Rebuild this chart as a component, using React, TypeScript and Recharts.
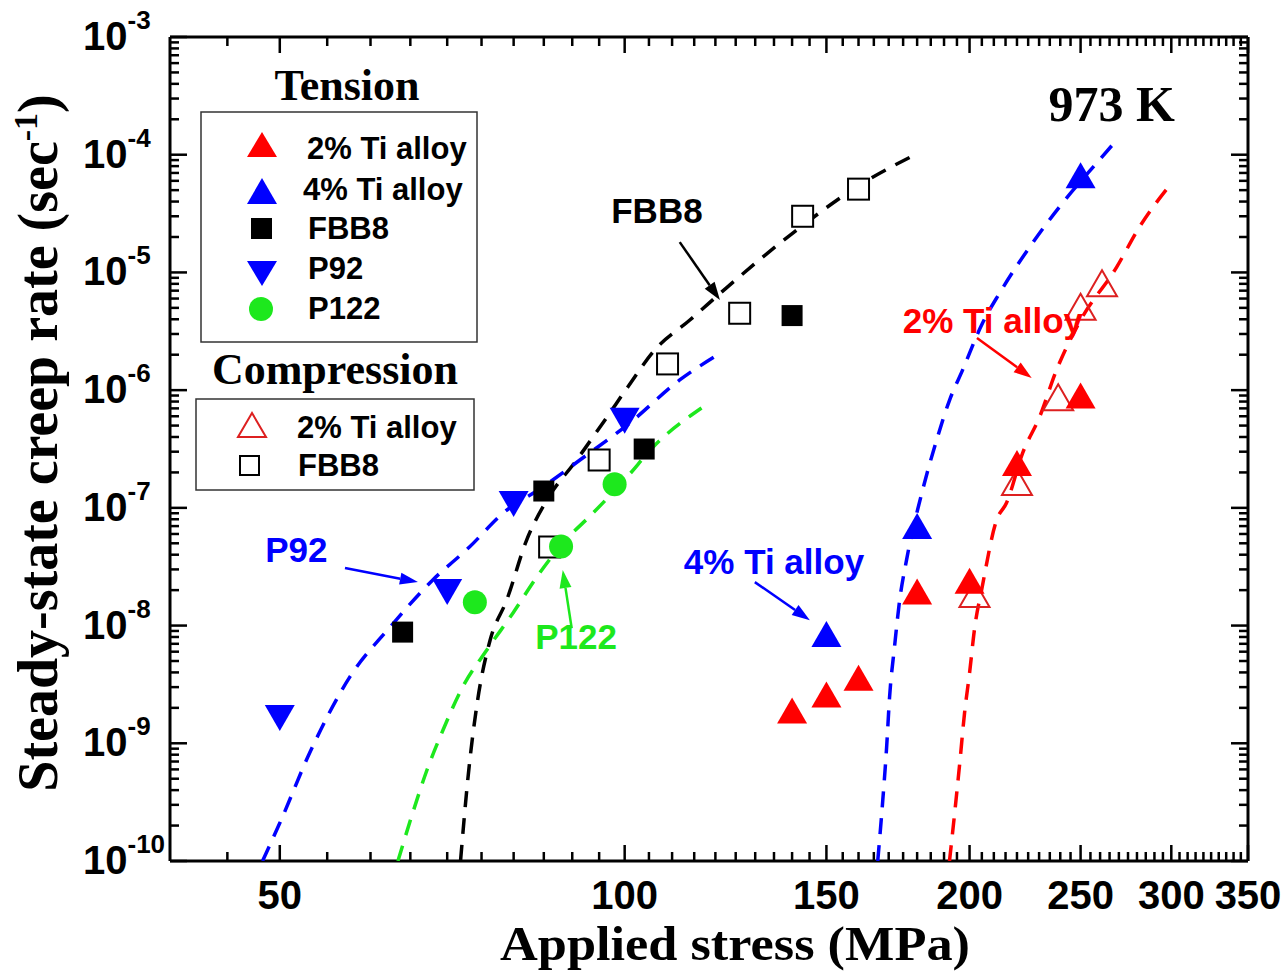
import React from 'react';
import { ScatterChart, Scatter, XAxis, YAxis, ReferenceLine, ReferenceDot } from 'recharts';

const SANS = "'Liberation Sans', Arial, sans-serif";
const SERIF = "'Liberation Serif', 'Times New Roman', serif";

const RED = '#ff0000';
const BLUE = '#0000ff';
const GREEN = '#1de81d';
const OPEN_RED = '#dd2020';

// ---------- measured points ----------
const TI2_T_X = [140, 150, 160, 180, 200, 220, 250];
const TI2_T_Y = [1.9e-9, 2.6e-9, 3.6e-9, 1.95e-8, 2.4e-8, 2.4e-7, 9.0e-7];
const TI4_T_X = [150, 180, 250];
const TI4_T_Y = [8.5e-9, 7.0e-8, 6.7e-5];
const FBB8_T_X = [64, 85, 104, 140];
const FBB8_T_Y = [8.8e-9, 1.39e-7, 3.16e-7, 4.3e-6];
const P92_X = [50, 70, 80, 100];
const P92_Y = [1.64e-9, 1.93e-8, 1.08e-7, 5.5e-7];
const P122_X = [74, 88, 98];
const P122_Y = [1.58e-8, 4.7e-8, 1.59e-7];
const TI2_C_X = [202, 220, 239, 250, 261];
const TI2_C_Y = [1.85e-8, 1.66e-7, 8.7e-7, 5.1e-6, 8.1e-6];
const FBB8_C_X = [86, 95, 109, 126, 143, 160];
const FBB8_C_Y = [4.65e-8, 2.55e-7, 1.67e-6, 4.5e-6, 3.0e-5, 5.1e-5];

// ---------- fitted (dashed) curves ----------
const FIT_FBB8_X = [71.9, 73.0, 74.4, 76.3, 78.9, 82.1, 85.5, 90.8, 96.5, 100.6, 106.2, 114.0, 122.7, 140.2, 161.4, 177.4];
const FIT_FBB8_Y = [1e-10, 5.2e-10, 2.3e-9, 7.5e-9, 1.65e-8, 5.3e-8, 1.16e-7, 2.55e-7, 5.9e-7, 1.06e-6, 2.19e-6, 3.94e-6, 7.4e-6, 2.16e-5, 5.75e-5, 9.5e-5];
const FIT_P92_X = [48.3, 50.0, 53.1, 57.6, 62.4, 68.0, 73.2, 78.3, 84.8, 91.4, 101.0, 111.7, 120.5];
const FIT_P92_Y = [1e-10, 2.1e-10, 8.3e-10, 3.7e-9, 9.7e-9, 2.44e-8, 4.65e-8, 9.0e-8, 1.5e-7, 2.55e-7, 5.25e-7, 1.22e-6, 1.99e-6];
const FIT_P122_X = [63.4, 65.3, 67.2, 69.4, 72.2, 75.8, 79.9, 83.8, 88.3, 93.8, 100.5, 105.9, 116.7];
const FIT_P122_Y = [1e-10, 2.55e-10, 5.9e-10, 1.29e-9, 3.0e-9, 6.2e-9, 1.28e-8, 2.58e-8, 5.0e-8, 9.0e-8, 1.83e-7, 3.29e-7, 7.05e-7];
const FIT_TI4_X = [166.3, 168.0, 169.3, 170.3, 172.0, 173.8, 176.2, 182.0, 187.2, 192.1, 197.2, 205.3, 212.5, 227.0, 239.6, 258.2, 268.8];
const FIT_TI4_Y = [1e-10, 3.3e-10, 9.3e-10, 2.47e-9, 6.6e-9, 1.65e-8, 3.6e-8, 1.42e-7, 3.77e-7, 8.2e-7, 1.48e-6, 3.72e-6, 6.7e-6, 1.78e-5, 3.6e-5, 8.5e-5, 1.33e-4];
const FIT_TI2_X = [192.1, 194.1, 196.1, 198.0, 200.0, 202.1, 204.9, 211.2, 215.4, 222.5, 230.2, 238.2, 249.2, 268.8, 281.4, 300.2];
const FIT_TI2_Y = [1e-10, 2.55e-10, 6.8e-10, 1.81e-9, 3.95e-9, 9.7e-9, 2.0e-8, 7.9e-8, 1.1e-7, 2.92e-7, 5.9e-7, 1.48e-6, 3.72e-6, 1.11e-5, 2.43e-5, 5.75e-5];

// ---------- axes ----------
const X_DOMAIN = [40.1, 350];
const Y_DOMAIN = [1e-10, 1e-3];
const X_MAJOR = [50, 100, 150, 200, 250, 300, 350];
const X_TICKS: number[] = [];
for (let v = 45; v <= 350; v += 5) X_TICKS.push(v);
const Y_DECADES = [1e-10, 1e-9, 1e-8, 1e-7, 1e-6, 1e-5, 1e-4, 1e-3];
const Y_EXPONENTS = ['-10', '-9', '-8', '-7', '-6', '-5', '-4', '-3'];
const Y_TICKS: number[] = [];
Y_DECADES.forEach((d, i) => {
  Y_TICKS.push(d);
  if (i < Y_DECADES.length - 1) for (let m = 2; m <= 9; m++) Y_TICKS.push(m * d);
});

const pts = (xs: number[], ys: number[]) => xs.map((x, i) => ({ x, y: ys[i] }));

// ---------- tick renderers ----------
const makeXTick = (side: 'bottom' | 'top') => (props: any) => {
  const { x, y, payload } = props;
  const v = payload.value;
  const major = X_MAJOR.includes(Math.round(v));
  const len = major ? 16 : 9;
  const dir = side === 'bottom' ? -1 : 1;
  return (
    <g>
      <line x1={x} y1={y} x2={x} y2={y + dir * len} stroke="#000" strokeWidth={2.5} />
      {side === 'bottom' && major && (
        <text x={x} y={y + 48} textAnchor="middle" fontFamily={SANS} fontWeight="bold" fontSize={40} fill="#000">
          {String(Math.round(v))}
        </text>
      )}
    </g>
  );
};

const makeYTick = (side: 'left' | 'right') => (props: any) => {
  const { x, y, payload } = props;
  const v = payload.value;
  const idx = Y_DECADES.findIndex((d) => Math.abs(v - d) < d * 1e-6);
  const major = idx >= 0;
  const len = major ? 17 : 9;
  const dir = side === 'left' ? 1 : -1;
  return (
    <g>
      <line x1={x} y1={y} x2={x + dir * len} y2={y} stroke="#000" strokeWidth={2.5} />
      {side === 'left' && major && (
        <text x={x - 87} y={y + 13} textAnchor="start" fontFamily={SANS} fontWeight="bold" fontSize={40} fill="#000">
          <tspan>10</tspan>
          <tspan dy={-21} fontSize={26}>{Y_EXPONENTS[idx]}</tspan>
        </text>
      )}
    </g>
  );
};

// ---------- marker shapes ----------
const triUp = (fill: string, stroke: string, sw: number) => (p: any) => {
  const { cx, cy } = p;
  return <polygon points={`${cx},${cy - 13} ${cx + 15},${cy + 13} ${cx - 15},${cy + 13}`} fill={fill} stroke={stroke} strokeWidth={sw} />;
};
const triDown = (fill: string) => (p: any) => {
  const { cx, cy } = p;
  return <polygon points={`${cx - 15},${cy - 13} ${cx + 15},${cy - 13} ${cx},${cy + 13}`} fill={fill} />;
};
const square = (fill: string, stroke: string, sw: number) => (p: any) => {
  const { cx, cy } = p;
  return <rect x={cx - 10.5} y={cy - 10.5} width={21} height={21} fill={fill} stroke={stroke} strokeWidth={sw} />;
};
const circle = (fill: string) => (p: any) => <circle cx={p.cx} cy={p.cy} r={12} fill={fill} />;
const none = () => <g />;

// ---------- annotations ----------
const arrowShape = (color: string) => (p: any) => {
  const { x1, y1, x2, y2 } = p;
  const a = Math.atan2(y2 - y1, x2 - x1);
  const L = 18;
  const W = 6;
  const bx = x2 - L * Math.cos(a);
  const by = y2 - L * Math.sin(a);
  const nx = -Math.sin(a) * W;
  const ny = Math.cos(a) * W;
  return (
    <g>
      <line x1={x1} y1={y1} x2={bx} y2={by} stroke={color} strokeWidth={2.5} />
      <polygon points={`${x2},${y2} ${bx + nx},${by + ny} ${bx - nx},${by - ny}`} fill={color} />
    </g>
  );
};
const textShape = (label: string, color: string, size: number, family: string) => (p: any) => (
  <text x={p.cx} y={p.cy} textAnchor="middle" dominantBaseline="central" fill={color} fontFamily={family} fontWeight="bold" fontSize={size}>
    {label}
  </text>
);

const ARROWS = [
  { from: { x: 111.7, y: 1.81e-5 }, to: { x: 121.1, y: 5.83e-6 }, color: '#000' },
  { from: { x: 57.0, y: 3.08e-8 }, to: { x: 66.0, y: 2.34e-8 }, color: BLUE },
  { from: { x: 89.9, y: 9.5e-9 }, to: { x: 88.3, y: 2.96e-8 }, color: GREEN },
  { from: { x: 129.9, y: 2.34e-8 }, to: { x: 145.1, y: 1.11e-8 }, color: BLUE },
  { from: { x: 203.0, y: 2.77e-6 }, to: { x: 226.6, y: 1.27e-6 }, color: RED },
];
const NOTES = [
  { x: 106.7, y: 3.33e-5, text: 'FBB8', color: '#000', size: 35, family: SANS },
  { x: 51.7, y: 4.47e-8, text: 'P92', color: BLUE, size: 35, family: SANS },
  { x: 90.7, y: 8.15e-9, text: 'P122', color: GREEN, size: 35, family: SANS },
  { x: 135.0, y: 3.53e-8, text: '4% Ti alloy', color: BLUE, size: 35, family: SANS },
  { x: 209.6, y: 3.94e-6, text: '2% Ti alloy', color: RED, size: 35, family: SANS },
  { x: 266.2, y: 2.7e-4, text: '973 K', color: '#000', size: 50, family: SERIF },
];

const DASH = { strokeWidth: 3.5, strokeDasharray: '16 11', fill: 'none' };

const Overlay = () => (
  <svg width={1285} height={973} style={{ position: 'absolute', left: 0, top: 0, pointerEvents: 'none' }}>
    {/* Tension legend */}
    <text x={347} y={100} textAnchor="middle" fontFamily={SERIF} fontWeight="bold" fontSize={44}>Tension</text>
    <rect x={201} y={112} width={276} height={230} fill="#fff" stroke="#333" strokeWidth={1.5} />
    <polygon points="262,132 277,157 247,157" fill={RED} />
    <text x={307} y={159} fontFamily={SANS} fontWeight="bold" fontSize={31}>2% Ti alloy</text>
    <polygon points="262,178 277,204 247,204" fill={BLUE} />
    <text x={303} y={200} fontFamily={SANS} fontWeight="bold" fontSize={31}>4% Ti alloy</text>
    <rect x={251} y={218} width={21} height={21} fill="#000" />
    <text x={308} y={239} fontFamily={SANS} fontWeight="bold" fontSize={31}>FBB8</text>
    <polygon points="247,261 277,261 262,286" fill={BLUE} />
    <text x={308} y={279} fontFamily={SANS} fontWeight="bold" fontSize={31}>P92</text>
    <circle cx={261} cy={309} r={12} fill={GREEN} />
    <text x={308} y={319} fontFamily={SANS} fontWeight="bold" fontSize={31}>P122</text>
    {/* Compression legend */}
    <text x={335} y={384} textAnchor="middle" fontFamily={SERIF} fontWeight="bold" fontSize={44}>Compression</text>
    <rect x={196} y={399} width={278} height={91} fill="#fff" stroke="#333" strokeWidth={1.5} />
    <polygon points="252,413 266,437 238,437" fill="none" stroke={OPEN_RED} strokeWidth={2} />
    <text x={297} y={438} fontFamily={SANS} fontWeight="bold" fontSize={31}>2% Ti alloy</text>
    <rect x={240} y={456} width={19} height={19} fill="none" stroke="#000" strokeWidth={2} />
    <text x={298} y={476} fontFamily={SANS} fontWeight="bold" fontSize={31}>FBB8</text>
    {/* Axis titles */}
    <text transform="translate(57,443) rotate(-90)" textAnchor="middle" fontFamily={SERIF} fontWeight="bold" fontSize={56}>
      <tspan>Steady-state creep rate (sec</tspan>
      <tspan dy={-20} fontSize={34}>-1</tspan>
      <tspan dy={20}>)</tspan>
    </text>
    <text x={735} y={960} textAnchor="middle" fontFamily={SERIF} fontWeight="bold" fontSize={48}
      textLength={470} lengthAdjust="spacingAndGlyphs">Applied stress (MPa)</text>
  </svg>
);

export default function App() {
  return (
    <div style={{ position: 'absolute', left: 0, top: 0, width: 1285, height: 973, background: '#fff' }}>
      <ScatterChart width={1285} height={973} margin={{ top: 0, right: 0, bottom: 0, left: 0 }}>
        <XAxis xAxisId="b" orientation="bottom" type="number" dataKey="x" scale="log" domain={X_DOMAIN} allowDataOverflow
          ticks={X_TICKS} interval={0} tickSize={0} tickMargin={0} tickLine={false} height={112}
          axisLine={{ stroke: '#000', strokeWidth: 3 }} tick={makeXTick('bottom')} />
        <XAxis xAxisId="t" orientation="top" type="number" dataKey="x" scale="log" domain={X_DOMAIN} allowDataOverflow
          ticks={X_TICKS} interval={0} tickSize={0} tickMargin={0} tickLine={false} height={37}
          axisLine={{ stroke: '#000', strokeWidth: 3 }} tick={makeXTick('top')} />
        <YAxis yAxisId="l" orientation="left" type="number" dataKey="y" scale="log" domain={Y_DOMAIN} allowDataOverflow
          ticks={Y_TICKS} interval={0} tickSize={0} tickMargin={0} tickLine={false} width={170}
          axisLine={{ stroke: '#000', strokeWidth: 3 }} tick={makeYTick('left')} />
        <YAxis yAxisId="r" orientation="right" type="number" dataKey="y" scale="log" domain={Y_DOMAIN} allowDataOverflow
          ticks={Y_TICKS} interval={0} tickSize={0} tickMargin={0} tickLine={false} width={37}
          axisLine={{ stroke: '#000', strokeWidth: 3 }} tick={makeYTick('right')} />

        <Scatter name="fit FBB8" xAxisId="b" yAxisId="l" data={pts(FIT_FBB8_X, FIT_FBB8_Y)} line={{ ...DASH, stroke: '#000' }} lineJointType="monotoneX" shape={none} isAnimationActive={false} />
        <Scatter name="fit P92" xAxisId="b" yAxisId="l" data={pts(FIT_P92_X, FIT_P92_Y)} line={{ ...DASH, stroke: BLUE }} lineJointType="monotoneX" shape={none} isAnimationActive={false} />
        <Scatter name="fit P122" xAxisId="b" yAxisId="l" data={pts(FIT_P122_X, FIT_P122_Y)} line={{ ...DASH, stroke: GREEN }} lineJointType="monotoneX" shape={none} isAnimationActive={false} />
        <Scatter name="fit 4Ti" xAxisId="b" yAxisId="l" data={pts(FIT_TI4_X, FIT_TI4_Y)} line={{ ...DASH, stroke: BLUE }} lineJointType="monotoneX" shape={none} isAnimationActive={false} />
        <Scatter name="fit 2Ti" xAxisId="b" yAxisId="l" data={pts(FIT_TI2_X, FIT_TI2_Y)} line={{ ...DASH, stroke: RED }} lineJointType="monotoneX" shape={none} isAnimationActive={false} />

        <Scatter name="FBB8 C" xAxisId="b" yAxisId="l" data={pts(FBB8_C_X, FBB8_C_Y)} shape={square('#fff', '#000', 2)} isAnimationActive={false} />
        <Scatter name="2Ti C" xAxisId="b" yAxisId="l" data={pts(TI2_C_X, TI2_C_Y)} shape={triUp('none', OPEN_RED, 2)} isAnimationActive={false} />
        <Scatter name="2Ti T" xAxisId="b" yAxisId="l" data={pts(TI2_T_X, TI2_T_Y)} shape={triUp(RED, 'none', 0)} isAnimationActive={false} />
        <Scatter name="4Ti T" xAxisId="b" yAxisId="l" data={pts(TI4_T_X, TI4_T_Y)} shape={triUp(BLUE, 'none', 0)} isAnimationActive={false} />
        <Scatter name="FBB8 T" xAxisId="b" yAxisId="l" data={pts(FBB8_T_X, FBB8_T_Y)} shape={square('#000', 'none', 0)} isAnimationActive={false} />
        <Scatter name="P92" xAxisId="b" yAxisId="l" data={pts(P92_X, P92_Y)} shape={triDown(BLUE)} isAnimationActive={false} />
        <Scatter name="P122" xAxisId="b" yAxisId="l" data={pts(P122_X, P122_Y)} shape={circle(GREEN)} isAnimationActive={false} />

        {ARROWS.map((a, i) => (
          <ReferenceLine key={'a' + i} xAxisId="b" yAxisId="l" segment={[a.from, a.to]} shape={arrowShape(a.color)} />
        ))}
        {NOTES.map((n, i) => (
          <ReferenceDot key={'n' + i} xAxisId="b" yAxisId="l" x={n.x} y={n.y} r={0}
            shape={textShape(n.text, n.color, n.size, n.family)} />
        ))}
      </ScatterChart>
      <Overlay />
    </div>
  );
}
